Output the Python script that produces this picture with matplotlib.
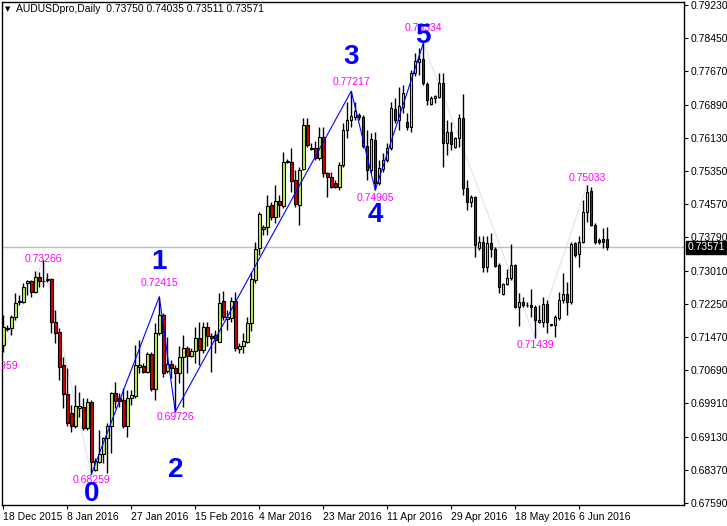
import matplotlib
matplotlib.use("Agg")
import matplotlib.pyplot as plt
import numpy as np

# daily AUDUSD bars, 18 Dec 2015 .. mid Jun 2016 (one bar index per day)
opens = [0.7128, 0.7166, 0.7168, 0.7195, 0.7228, 0.7230, 0.7274, 0.7279, 0.7253, 0.7287,
         0.7279, 0.7281, 0.7282, 0.7183, 0.7159, 0.7082, 0.7014, 0.6970, 0.6938, 0.6982,
         0.6984, 0.6935, 0.6995, 0.6836, 0.6856, 0.6874, 0.6910, 0.6940, 0.7016, 0.7005,
         0.7000, 0.6938, 0.7004, 0.7009, 0.7078, 0.7079, 0.7066, 0.7107, 0.7025, 0.7156,
         0.7199, 0.7068, 0.7084, 0.7074, 0.7062, 0.7100, 0.7122, 0.7103, 0.7114, 0.7144,
         0.7117, 0.7171, 0.7150, 0.7152, 0.7136, 0.7231, 0.7189, 0.7191, 0.7232, 0.7118,
         0.7125, 0.7136, 0.7179, 0.7280, 0.7354, 0.7399, 0.7404, 0.7456, 0.7428, 0.7465,
         0.7453, 0.7559, 0.7557, 0.7514, 0.7456, 0.7539, 0.7643, 0.7587, 0.7588, 0.7565,
         0.7614, 0.7530, 0.7520, 0.7506, 0.7498, 0.7549, 0.7631, 0.7654, 0.7662, 0.7666,
         0.7662, 0.7594, 0.7537, 0.7608, 0.7506, 0.7539, 0.7561, 0.7588, 0.7679, 0.7654,
         0.7685, 0.7650, 0.7639, 0.7763, 0.7790, 0.7796, 0.7738, 0.7692, 0.7705, 0.7709,
         0.7740, 0.7600, 0.7627, 0.7592, 0.7612, 0.7658, 0.7495, 0.7463, 0.7474, 0.7354,
         0.7370, 0.7311, 0.7366, 0.7352, 0.7315, 0.7247, 0.7270, 0.7284, 0.7315, 0.7218,
         0.7230, 0.7222, 0.7222, 0.7217, 0.7183, 0.7183, 0.7224, 0.7177, 0.7175, 0.7191,
         0.7234, 0.7248, 0.7228, 0.7366, 0.7341, 0.7368, 0.7440, 0.7489, 0.7410, 0.7374,
         0.7375, 0.73750]
highs = [0.7199, 0.7175, 0.7199, 0.7250, 0.7245, 0.7273, 0.7280, 0.7280, 0.7302, 0.7300,
         0.73266, 0.7297, 0.7285, 0.7210, 0.7168, 0.7101, 0.7074, 0.6988, 0.7035, 0.7019,
         0.7004, 0.7004, 0.7000, 0.6864, 0.6930, 0.6914, 0.6945, 0.7018, 0.7043, 0.7017,
         0.7027, 0.7023, 0.7023, 0.7128, 0.7140, 0.7086, 0.7113, 0.7113, 0.7179, 0.72415,
         0.7203, 0.7148, 0.7093, 0.7082, 0.7125, 0.7152, 0.7126, 0.7121, 0.7171, 0.7183,
         0.7183, 0.7183, 0.7156, 0.7164, 0.7249, 0.7255, 0.7210, 0.7241, 0.7253, 0.7132,
         0.7156, 0.7193, 0.7300, 0.7370, 0.7440, 0.7409, 0.7479, 0.7463, 0.7502, 0.7479,
         0.7580, 0.7562, 0.7588, 0.7537, 0.7545, 0.7658, 0.7658, 0.7600, 0.7604, 0.7639,
         0.7639, 0.7533, 0.7533, 0.7514, 0.7557, 0.7647, 0.7697, 0.77217, 0.7697, 0.7670,
         0.7666, 0.7631, 0.7623, 0.7627, 0.7561, 0.7576, 0.7600, 0.7697, 0.7705, 0.7732,
         0.7736, 0.7670, 0.7770, 0.7810, 0.7822, 0.78334, 0.7744, 0.7710, 0.7713, 0.7763,
         0.7763, 0.7654, 0.7650, 0.7615, 0.7668, 0.7715, 0.7514, 0.7479, 0.7477, 0.7382,
         0.7382, 0.7382, 0.7390, 0.7358, 0.7319, 0.7273, 0.7305, 0.7364, 0.7317, 0.7249,
         0.7241, 0.7230, 0.7259, 0.7222, 0.7222, 0.7241, 0.7234, 0.7178, 0.7199, 0.7253,
         0.7296, 0.7276, 0.7368, 0.7370, 0.7382, 0.7467, 0.75033, 0.7498, 0.7413, 0.7378,
         0.7401, 0.74035]
lows = [0.7113, 0.7160, 0.7152, 0.7187, 0.7222, 0.7227, 0.7245, 0.7241, 0.7249, 0.7265,
        0.7265, 0.7276, 0.7156, 0.7132, 0.7047, 0.6981, 0.6938, 0.6926, 0.6934, 0.6961,
        0.6930, 0.6930, 0.68259, 0.6835, 0.6852, 0.6852, 0.6830, 0.6875, 0.6981, 0.6984,
        0.6934, 0.6914, 0.6988, 0.7004, 0.7062, 0.7062, 0.7062, 0.7022, 0.7000, 0.7152,
        0.7054, 0.7062, 0.7051, 0.69726, 0.7039, 0.6984, 0.7062, 0.7100, 0.7086, 0.7082,
        0.7109, 0.7125, 0.7066, 0.7109, 0.7136, 0.7187, 0.7164, 0.7183, 0.7115, 0.7109,
        0.7109, 0.7134, 0.7162, 0.7273, 0.7339, 0.7386, 0.7386, 0.7421, 0.7413, 0.7428,
        0.7448, 0.7554, 0.7487, 0.7452, 0.7409, 0.7537, 0.7592, 0.7584, 0.7561, 0.7561,
        0.7522, 0.7475, 0.7495, 0.7495, 0.7491, 0.7545, 0.7612, 0.7639, 0.7654, 0.7654,
        0.7588, 0.7514, 0.7530, 0.74905, 0.7502, 0.7533, 0.7557, 0.7584, 0.7647, 0.7631,
        0.7670, 0.7631, 0.7627, 0.7756, 0.7759, 0.7736, 0.7689, 0.7689, 0.7693, 0.7705,
        0.7545, 0.7572, 0.7584, 0.7588, 0.7592, 0.7479, 0.7444, 0.7452, 0.7335, 0.7350,
        0.7300, 0.7300, 0.7335, 0.7311, 0.7251, 0.7245, 0.7269, 0.7280, 0.7214, 0.7173,
        0.7218, 0.7218, 0.7195, 0.71439, 0.7179, 0.7171, 0.7156, 0.7173, 0.7146, 0.7187,
        0.7226, 0.7199, 0.7224, 0.7335, 0.7311, 0.7366, 0.7417, 0.7407, 0.7365, 0.7365,
        0.7354, 0.73511]
closes = [0.7170, 0.7168, 0.7195, 0.7227, 0.7231, 0.7263, 0.7279, 0.7253, 0.7287, 0.7279,
          0.7277, 0.7282, 0.7181, 0.7156, 0.7078, 0.7014, 0.6947, 0.6938, 0.6986, 0.6986,
          0.6934, 0.6995, 0.6856, 0.6858, 0.6874, 0.6910, 0.6940, 0.7016, 0.6998, 0.6998,
          0.6938, 0.7004, 0.7011, 0.7082, 0.7082, 0.7066, 0.7107, 0.7025, 0.7156, 0.7199,
          0.7062, 0.7084, 0.7074, 0.7062, 0.7100, 0.7122, 0.7103, 0.7114, 0.7144, 0.7117,
          0.7170, 0.7150, 0.7144, 0.7140, 0.7227, 0.7193, 0.7195, 0.7232, 0.7122, 0.7126,
          0.7138, 0.7179, 0.7282, 0.7352, 0.7434, 0.7404, 0.7453, 0.7428, 0.7465, 0.7456,
          0.7557, 0.7557, 0.7512, 0.7458, 0.7537, 0.7643, 0.7596, 0.7588, 0.7565, 0.7614,
          0.7530, 0.7520, 0.7498, 0.7498, 0.7549, 0.7631, 0.7654, 0.7664, 0.7676, 0.7661,
          0.7594, 0.7537, 0.7609, 0.7506, 0.7541, 0.7561, 0.7588, 0.7682, 0.7654, 0.7687,
          0.7717, 0.7639, 0.7763, 0.7791, 0.7796, 0.7740, 0.7701, 0.7705, 0.7710, 0.7740,
          0.7600, 0.7627, 0.7598, 0.7612, 0.7658, 0.7495, 0.7463, 0.7474, 0.7362, 0.7370,
          0.7311, 0.7366, 0.7352, 0.7313, 0.7265, 0.7271, 0.7284, 0.7315, 0.7218, 0.7230,
          0.7222, 0.7221, 0.7217, 0.7187, 0.7187, 0.7224, 0.7183, 0.7174, 0.7193, 0.7234,
          0.7248, 0.7228, 0.7365, 0.7339, 0.7368, 0.7440, 0.7487, 0.7409, 0.7370, 0.7368,
          0.7369, 0.73571]

# zigzag pivots (bar index, price); wave numbers on the blue leg
zz_bars = [-1, 10, 22, 39, 43, 87, 93, 105, 133, 146]
zz_prices = [0.70959, 0.73266, 0.68259, 0.72415, 0.69726, 0.77217, 0.74905, 0.78334, 0.71439, 0.75033]
wave_names = ["0", "1", "2", "3", "4", "5"]

date_labels = ["18 Dec 2015", "8 Jan 2016", "27 Jan 2016", "15 Feb 2016", "4 Mar 2016",
               "23 Mar 2016", "11 Apr 2016", "29 Apr 2016", "18 May 2016", "6 Jun 2016"]
price_labels = ["0.79230", "0.78450", "0.77670", "0.76890", "0.76130", "0.75350", "0.74570",
                "0.73790", "0.73010", "0.72250", "0.71470", "0.70690", "0.69910", "0.69130",
                "0.68370", "0.67590"]
last_price = 0.73571

W, H = 727, 526
fig = plt.figure(figsize=(W / 100, H / 100), dpi=100)
ax = fig.add_axes([2 / W, (H - 505) / H, 682 / W, 503 / H])

x = np.arange(len(opens))
o = np.array(opens)
c = np.array(closes)
up = c >= o

# faint zigzag legs and blue wave legs
ax.plot(zz_bars[:3], zz_prices[:3], color="#e4e4f8", lw=0.9, zorder=1)
ax.plot(zz_bars[7:], zz_prices[7:], color="#e4e4f8", lw=0.9, zorder=1)
ax.axhline(last_price, color="#c0c0c0", lw=1, zorder=1)

ax.vlines(x, lows, highs, color="black", lw=1, zorder=2)
ax.bar(x, c - o, bottom=o, width=0.62,
       color=np.where(up, "#bdf25a", "#d00000"), edgecolor="black", linewidth=0.8, zorder=3)

ax.plot(zz_bars[2:8], zz_prices[2:8], color="#0000ff", lw=0.8, zorder=4)

# pivot price labels (pixel offsets)
label_dy = [-7, 1, -5.5, 13.5, -5.5, 9, -7.5, 15, -7, 6.5]
for b, p, dy in zip(zz_bars, zz_prices, label_dy):
    ax.annotate(f"{p:.5f}", (b, p), xytext=(0, dy), textcoords="offset pixels",
                ha="center", va="center", color="#ff00ff", fontsize=7.5,
                family="Liberation Sans", annotation_clip=False, clip_on=True, zorder=5)

wave_dy = [-19.5, 34.5, -58, 34, -25, 7]
for name, b, p, dy in zip(wave_names, zz_bars[2:8], zz_prices[2:8], wave_dy):
    ax.annotate(name, (b, p), xytext=(0, dy), textcoords="offset pixels",
                ha="center", va="center", color="#0000ff", fontsize=20,
                fontweight="bold", family="Liberation Sans", zorder=6)

ax.set_xlim(-0.33, 170.2)
ax.set_ylim(0.67545, 0.79300)

ax.set_xticks(np.arange(0, 16 * len(date_labels), 16))
ax.set_xticklabels(date_labels, ha="left", fontsize=7.5, family="Liberation Sans")
ax.yaxis.tick_right()
ax.set_yticks(np.linspace(0.79230, 0.67590, len(price_labels)))
ax.set_yticklabels(price_labels, fontsize=7.5, family="Liberation Sans")
ax.tick_params(axis="both", length=3, width=0.8, color="black", pad=2)
for s in ax.spines.values():
    s.set_linewidth(1)

ax.annotate(f"{last_price:.5f}", xy=(1, last_price), xycoords=("axes fraction", "data"),
            xytext=(4, 0), textcoords="offset pixels", ha="left", va="center",
            color="white", fontsize=7.5, family="Liberation Sans",
            bbox=dict(boxstyle="square,pad=0.15", fc="black", ec="black"))

fig.text(5 / W, 1 - 9 / H, "\u25bc", fontsize=5, va="center", ha="left")
fig.text(16 / W, 1 - 9 / H, "AUDUSDpro,Daily  0.73750 0.74035 0.73511 0.73571",
         fontsize=7.5, va="center", ha="left", family="Liberation Sans")

fig.savefig("out.png", dpi=100)
